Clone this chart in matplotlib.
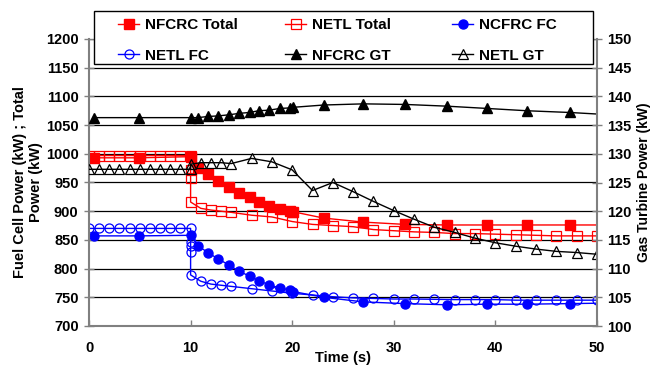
import matplotlib.pyplot as plt
from matplotlib.patches import Rectangle

plt.rcParams['font.family'] = ['Liberation Sans', 'DejaVu Sans']
plt.rcParams['font.weight'] = 'bold'

# NFCRC series (same time base for all three)
nfcrc_t = [0.5, 4.9, 10.0, 10.7, 11.7, 12.7, 13.8, 14.8, 15.8, 16.7, 17.7,
           18.8, 19.8, 20.1, 23.1, 27.0, 31.1, 35.2, 39.2, 43.1, 47.3, 51.3]
nfcrc_total = [993, 993, 995, 975, 965, 953, 942, 932, 925, 916, 909,
               904, 900, 899, 888, 881, 877, 876, 876, 876, 876, 876]
nfcrc_fc = [857, 857, 858, 840, 828, 817, 806, 795, 787, 779, 772,
            766, 763, 760, 750, 742, 739, 737, 738, 738, 739, 740]
nfcrc_gt = [136.3, 136.3, 136.3, 136.3, 136.5, 136.6, 136.8, 137.05, 137.2, 137.5, 137.6,
            137.9, 138.0, 138.1, 138.5, 138.7, 138.6, 138.3, 137.9, 137.5, 137.2, 136.8]

# NETL series
before = [0, 1, 2, 3, 4, 5, 6, 7, 8, 9]
after = [11, 12, 13, 14, 16, 18, 20, 22, 24, 26, 28, 30, 32, 34, 36, 38, 40,
         42, 44, 46, 48, 50]

netl_total_t = before + [10, 10, 10, 10] + after
netl_total = [997] * 10 + [997, 972, 957, 916] + \
    [905, 902, 900, 898, 893, 890, 882, 877, 875, 873, 868, 866, 864, 863,
     861, 861, 860, 859, 858, 857, 857, 857]

netl_fc_t = before + [10, 10, 10, 10, 10] + after
netl_fc = [870] * 10 + [870, 847, 839, 829, 789] + \
    [778, 773, 771, 769, 765, 761, 757, 754, 751, 749, 748, 747, 747, 746.5,
     746, 746, 746, 745, 745, 745, 745, 745]

netl_gt_t = before + [10, 10] + after
netl_gt = [127.3] * 10 + [127.3, 128.2] + \
    [128.45, 128.45, 128.45, 128.3, 129.2, 128.6, 127.2, 123.6, 125.0, 123.4,
     121.7, 120.1, 118.6, 117.2, 116.3, 115.3, 114.5, 113.9, 113.4, 113.0, 112.8, 112.5]

W, H = 654, 367
fig = plt.figure(figsize=(W / 100, H / 100), dpi=100)
ax = fig.add_axes([89 / W, 1 - 326 / H, (597 - 89) / W, (326 - 39) / H])
ax2 = ax.twinx()

ms = 6.5
h1, = ax.plot(nfcrc_t, nfcrc_total, color='red', lw=1, marker='s', ms=ms,
              label='NFCRC Total')
h2, = ax.plot(netl_total_t, netl_total, color='red', lw=1, marker='s', ms=ms,
              mfc='none', mew=0.9, label='NETL Total')
h3, = ax.plot(nfcrc_t, nfcrc_fc, color='blue', lw=1, marker='o', ms=ms,
              label='NCFRC FC')
h4, = ax.plot(netl_fc_t, netl_fc, color='blue', lw=1, marker='o', ms=ms,
              mfc='none', mew=0.9, label='NETL FC')
h5, = ax2.plot(nfcrc_t, nfcrc_gt, color='black', lw=1, marker='^', ms=ms,
               label='NFCRC GT')
h6, = ax2.plot(netl_gt_t, netl_gt, color='black', lw=1, marker='^', ms=ms,
               mfc='none', mew=0.9, label='NETL GT')

ax.set_xlim(0, 50)
ax.set_ylim(700, 1200)
ax2.set_ylim(100, 150)
ax.set_xticks(range(0, 51, 10))
ax.set_yticks(range(700, 1201, 50))
ax2.set_yticks(range(100, 151, 5))
ax.yaxis.grid(True, color='black', lw=0.9)
ax.set_axisbelow(True)

for a in (ax, ax2):
    a.spines['top'].set_visible(False)
    for s in ('left', 'right', 'bottom'):
        a.spines[s].set_color('#808080')
        a.spines[s].set_linewidth(1.5)
ax.spines['right'].set_visible(False)
ax2.spines['left'].set_visible(False)
ax2.spines['bottom'].set_visible(False)

fs = 10.5
ax.tick_params(axis='y', direction='inout', length=7, width=1, color='#808080',
               labelsize=fs, pad=4)
ax2.tick_params(axis='y', direction='inout', length=7, width=1, color='#808080',
                labelsize=fs, pad=4)
ax.tick_params(axis='x', direction='in', length=4, width=1, color='#808080',
               labelsize=fs, pad=11)

ax.set_xlabel('Time (s)', fontsize=fs, fontweight='bold', labelpad=-3)
ax.set_ylabel('Fuel Cell Power (kW) ; Total\nPower (kW)', fontsize=fs,
              fontweight='bold', labelpad=2)
ax2.set_ylabel('Gas Turbine Power (kW)', fontsize=10, fontweight='bold',
               labelpad=4)

# legend box drawn separately so it spans the reference frame
fig.patches.append(Rectangle((94 / W, 1 - 64 / H), (593 - 94) / W, 53 / H,
                             transform=fig.transFigure, facecolor='white',
                             edgecolor='black', lw=1, zorder=9))

# one legend per column so the columns sit at fixed positions
columns = [(118, [h1, h4]), (285, [h2, h5]), (452, [h3, h6])]
for x0, hs in columns:
    leg = fig.legend(hs, [h.get_label() for h in hs], loc='center left',
                     bbox_to_anchor=(x0 / W, 1 - 40.5 / H),
                     frameon=False, fontsize=11, handlelength=1.4,
                     handletextpad=0.35, borderaxespad=0, borderpad=0,
                     labelspacing=1.05)
    leg.set_zorder(10)

fig.savefig('out.png', dpi=100)
